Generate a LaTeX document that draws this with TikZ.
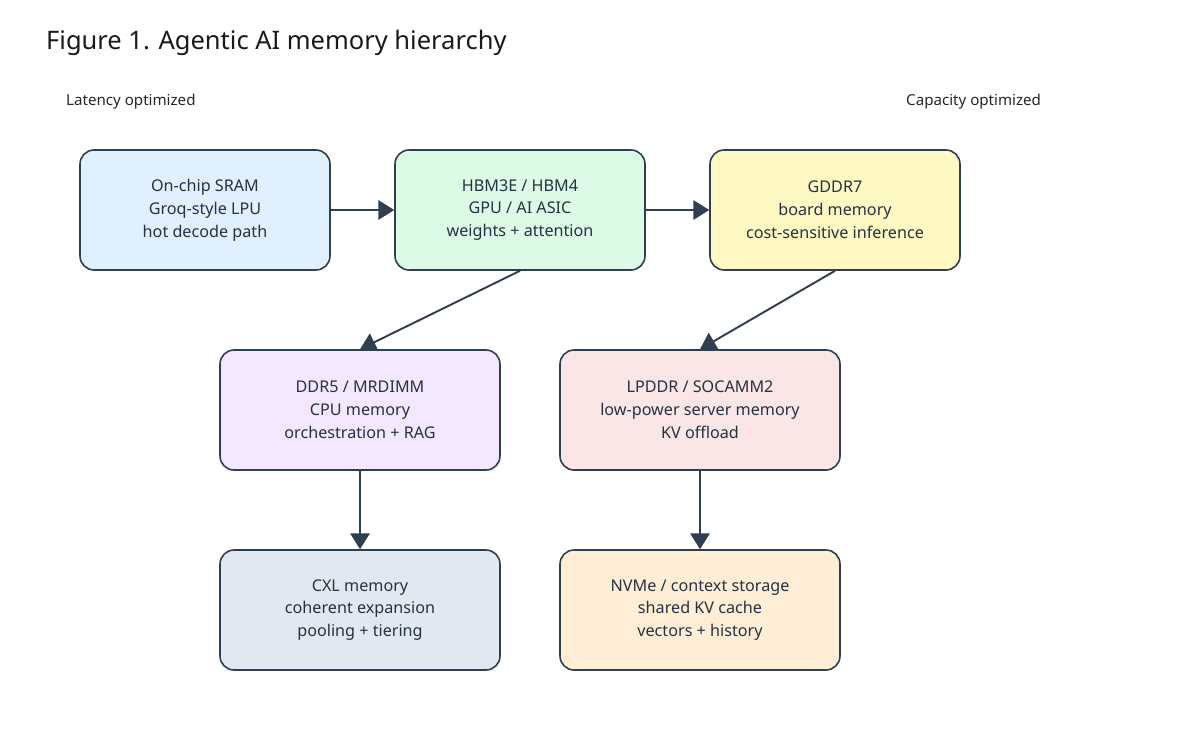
\documentclass[tikz,border=0pt]{standalone}
\usepackage{fontspec}
\setmainfont{Noto Sans}
\usetikzlibrary{arrows.meta,positioning}
\definecolor{edge}{HTML}{2F3E50}
\begin{document}
\begin{tikzpicture}[
    box/.style={rectangle, draw=edge, line width=0.9pt, rounded corners=8pt, minimum height=2.4cm, align=center, font=\fontsize{9.2}{13}\selectfont, text=edge!80!black},
    narrow/.style={box, minimum width=5cm},
    wide/.style={box, minimum width=5.6cm},
    arrow/.style={-{Triangle[length=9pt,width=11pt]}, draw=edge, line width=1.1pt},
    tag/.style={font=\fontsize{8.6}{10}\selectfont\bfseries, text=black!85, anchor=base west}
]
\useasboundingbox (0,0) rectangle (24,-15);

% Title and side labels
\node[anchor=base west, font=\fontsize{14.5}{16}\selectfont\bfseries, text=black!90] (title) at (0.8,-0.98) {Figure 1. Agentic AI memory hierarchy};
\node[tag] (lat) at (1.2,-2.1) {Latency optimized};
\node[tag] (cap) at (18,-2.1) {Capacity optimized};

% Top row
\node[narrow, fill={rgb,255:red,224;green,240;blue,253}] (sram) at (4.1,-4.2) {On-chip SRAM\\Groq-style LPU\\hot decode path};
\node[narrow, fill={rgb,255:red,220;green,250;blue,230}] (hbm) at (10.4,-4.2) {HBM3E / HBM4\\GPU / AI ASIC\\weights + attention};
\node[narrow, fill={rgb,255:red,254;green,249;blue,195}] (gddr) at (16.7,-4.2) {GDDR7\\board memory\\cost-sensitive inference};

% Middle row
\node[wide, fill={rgb,255:red,243;green,232;blue,255}] (ddr) at (7.2,-8.2) {DDR5 / MRDIMM\\CPU memory\\orchestration + RAG};
\node[wide, fill={rgb,255:red,250;green,230;blue,230}] (lpddr) at (14,-8.2) {LPDDR / SOCAMM2\\low-power server memory\\KV offload};

% Bottom row
\node[wide, fill={rgb,255:red,226;green,232;blue,240}] (cxl) at (7.2,-12.2) {CXL memory\\coherent expansion\\pooling + tiering};
\node[wide, fill={rgb,255:red,255;green,237;blue,213}] (nvme) at (14,-12.2) {NVMe / context storage\\shared KV cache\\vectors + history};

% Connectors
\draw[arrow] (sram) -- (hbm);
\draw[arrow] (hbm) -- (gddr);
\draw[arrow] (hbm.south) -- (ddr.north);
\draw[arrow] (gddr.south) -- (lpddr.north);
\draw[arrow] (ddr) -- (cxl);
\draw[arrow] (lpddr) -- (nvme);
\end{tikzpicture}
\end{document}
